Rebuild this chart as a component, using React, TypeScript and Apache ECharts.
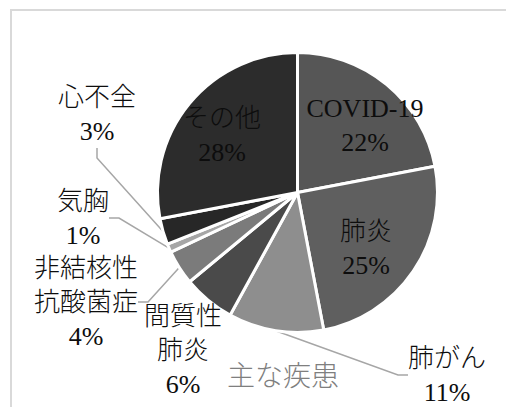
import React, { useEffect, useRef } from "react";
import * as echarts from "echarts";

const categories = ["COVID-19", "肺炎", "肺がん", "間質性\n肺炎", "非結核性\n抗酸菌症", "気胸", "心不全", "その他"];
const values = [22, 25, 11, 6, 4, 1, 3, 28];
const sliceColors = ["#565656", "#5f5f5f", "#8e8e8e", "#4a4a4a", "#7b7b7b", "#a6a6a6", "#272727", "#2c2c2c"];
const showLeader = [false, false, true, false, true, true, true, false];
const titleText = "主な疾患";

// label anchor positions (px, page coordinates)
const labelPos: [number, number][] = [
  [365, 125],
  [366, 248],
  [447, 375],
  [183, 350],
  [86, 302],
  [83, 218],
  [97, 114],
  [222, 135],
];

const FONT = "'Liberation Serif', 'Noto Sans CJK JP', serif";

export default function App() {
  const ref = useRef<HTMLDivElement>(null);
  useEffect(() => {
    document.documentElement.style.overflow = "hidden";
    document.body.style.overflow = "hidden";
    if (!ref.current) return;
    const chart = echarts.init(ref.current, undefined, { renderer: "svg" });
    chart.setOption({
      animation: false,
      backgroundColor: "#ffffff",
      graphic: [
        {
          type: "polyline",
          shape: { points: [[11, 700], [11, 10], [700, 10]] },
          style: { fill: "none", stroke: "#d9d9d9", lineWidth: 2 },
          silent: true,
        },
        {
          type: "text",
          x: 283,
          y: 376,
          style: {
            text: titleText,
            fill: "#7f7f7f",
            font: `300 28px ${FONT}`,
            textAlign: "center",
            textVerticalAlign: "middle",
          },
        },
      ],
      series: [
        {
          type: "pie",
          center: [297.5, 192.5],
          radius: [0, 140],
          startAngle: 90,
          clockwise: true,
          percentPrecision: 0,
          itemStyle: { borderColor: "#ffffff", borderWidth: 3 },
          label: {
            show: true,
            position: "outside",
            formatter: "{b}\n{d}%",
            color: "#0d0d0d",
            fontFamily: FONT,
            fontWeight: 300,
            fontSize: 26,
            lineHeight: 34,
            align: "center",
            overflow: "none",
          },
          labelLine: {
            show: true,
            length: 8,
            length2: 10,
            lineStyle: { color: "#a6a6a6", width: 1.5 },
          },
          labelLayout: (params: any) => {
            const p = labelPos[params.dataIndex];
            return { x: p[0], y: p[1], align: "center", verticalAlign: "middle", hideOverlap: false };
          },
          emphasis: { disabled: true },
          data: categories.map((name, i) => ({
            name,
            value: values[i],
            itemStyle: { color: sliceColors[i] },
            labelLine: { show: showLeader[i] },
          })),
        },
      ],
    });
    return () => chart.dispose();
  }, []);
  return (
    <div
      ref={ref}
      style={{ position: "fixed", left: 0, top: 0, width: 506, height: 407 }}
    />
  );
}
